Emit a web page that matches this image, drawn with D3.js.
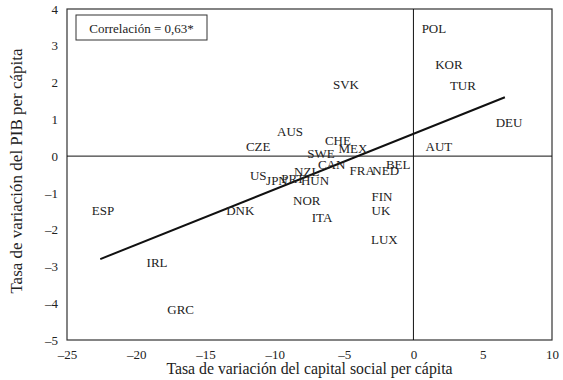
<!DOCTYPE html>
<html><head><meta charset="utf-8">
<script src="https://cdn.jsdelivr.net/npm/d3@7"></script>
<style>body{margin:0;background:#fff}svg{display:block}svg text{font-family:"Liberation Serif","DejaVu Serif","Times New Roman",serif !important;fill:#222}</style>
</head><body><svg id="c" width="563" height="380"></svg>
<script>
const countries = ["POL","KOR","TUR","SVK","DEU","AUT","AUS","CZE","CHE","MEX","SWE","CAN","FRA","NED","BEL","US","JPN","PRT","NZL","HUN","NOR","ITA","FIN","UK","LUX","DNK","ESP","IRL","GRC"];
const capital = [1.48,2.56,3.57,-4.87,6.9,1.84,-8.9,-11.2,-5.45,-4.37,-6.67,-5.9,-3.7,-2.0,-1.1,-11.2,-9.85,-8.7,-7.7,-7.1,-7.7,-6.6,-2.27,-2.34,-2.1,-12.5,-22.4,-18.5,-16.8];
const gdp = [3.48,2.5,1.93,1.96,0.92,0.27,0.68,0.27,0.43,0.22,0.08,-0.24,-0.38,-0.38,-0.24,-0.52,-0.65,-0.6,-0.43,-0.65,-1.22,-1.66,-1.09,-1.49,-2.28,-1.49,-1.47,-2.9,-4.16];
const fitX = [-22.6, 6.6];
const fitY = [-2.8, 1.6];
const xTicks = [-25,-20,-15,-10,-5,0,5,10];
const yTicks = [-5,-4,-3,-2,-1,0,1,2,3,4];
const corrText = "Correlación = 0,63*";

const svg = d3.select("#c");
const L=67,R=552,T=9,B=340;
const x = d3.scaleLinear().domain([-25,10]).range([L,R]);
const y = d3.scaleLinear().domain([-5,4]).range([B,T]);
const fmt = d => d<0 ? "\u2013"+Math.abs(d) : String(d);

const gx = svg.append("g").attr("transform",`translate(0,${B})`)
  .call(d3.axisBottom(x).tickValues(xTicks).tickSize(0).tickPadding(10).tickFormat(fmt));
const gy = svg.append("g").attr("transform",`translate(${L},0)`)
  .call(d3.axisLeft(y).tickValues(yTicks).tickSize(0).tickPadding(9).tickFormat(fmt));
[gx,gy].forEach(g=>{g.attr("font-family",null).attr("font-size",null);g.select(".domain").remove();g.selectAll("text").style("font-size","13px").attr("fill","#222");});

svg.append("rect").attr("x",L).attr("y",T).attr("width",R-L).attr("height",B-T)
  .attr("fill","none").attr("stroke","#333").attr("stroke-width",1.2);
svg.append("line").attr("x1",L).attr("x2",R).attr("y1",y(0)).attr("y2",y(0)).attr("stroke","#111").attr("stroke-width",1);
svg.append("line").attr("x1",x(0)).attr("x2",x(0)).attr("y1",T).attr("y2",B).attr("stroke","#111").attr("stroke-width",1);

svg.append("line").attr("x1",x(fitX[0])).attr("y1",y(fitY[0])).attr("x2",x(fitX[1])).attr("y2",y(fitY[1]))
  .attr("stroke","#111").attr("stroke-width",2);

svg.append("g").selectAll("text").data(countries).join("text")
  .attr("x",(d,i)=>x(capital[i])).attr("y",(d,i)=>y(gdp[i]))
  .attr("text-anchor","middle").attr("dominant-baseline","central")
  .style("font-size","13px").text(d=>d);

svg.append("rect").attr("x",76).attr("y",15).attr("width",131).attr("height",25)
  .attr("fill","#fff").attr("stroke","#333").attr("stroke-width",1);
svg.append("text").attr("x",141.5).attr("y",28).attr("text-anchor","middle").attr("dominant-baseline","central")
  .style("font-size","13px").text(corrText);

svg.append("text").attr("x",(L+R)/2).attr("y",374).attr("text-anchor","middle").style("font-size","15.8px")
  .text("Tasa de variación del capital social per cápita");
svg.append("text").attr("transform",`translate(22,171) rotate(-90)`).attr("text-anchor","middle").style("font-size","17px")
  .text("Tasa de variación del PIB per cápita");
</script></body></html>
